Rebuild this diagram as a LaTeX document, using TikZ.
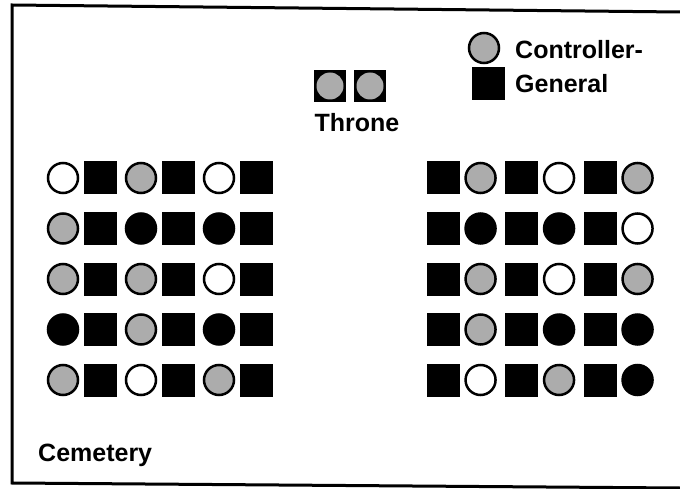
\documentclass[tikz,border=0pt]{standalone}
\usepackage{fontspec}
\setmainfont{Liberation Sans}
\usetikzlibrary{positioning}
\definecolor{dot_gray}{RGB}{172,172,172}

\begin{document}
\begin{tikzpicture}[x=1pt, y=-1pt,
    seat/.style={circle, draw=black, line width=2.5pt, minimum size=30pt, inner sep=0pt},
    gseat/.style={seat, fill=dot_gray},
    bseat/.style={seat, fill=black},
    wseat/.style={seat, fill=white},
    box/.style={rectangle, fill=black, minimum size=33pt, inner sep=0pt},
    label/.style={font=\fontsize{25}{30}\selectfont\bfseries, inner sep=0pt}]
    \useasboundingbox (0,0) rectangle (680,489);

    % Frame
    \draw[line width=3pt] (680,12) -- (12,5) -- (12,483) -- (680,488);

    % Throne
    \node[box, minimum size=32pt] (throne1) at (330,86) {};
    \node[box, minimum size=32pt] (throne2) at (370,86) {};
    \node[circle, fill=dot_gray, minimum size=27pt, inner sep=0pt] (tseat1) at (throne1) {};
    \node[circle, fill=dot_gray, minimum size=27pt, inner sep=0pt] (tseat2) at (throne2) {};
    \node[label, anchor=base] (throne) at (357,132) {Throne};

    % Key
    \node[gseat] (keyseat) at (484,48) {};
    \node[box] (keybox) at (488.5,84) {};
    \node[label, anchor=base west] (keyctl) at (515,59) {Controller-};
    \node[label, anchor=base west] (keygen) at (515,93) {General};

    % Left benches
    \foreach \kinds [count=\r] in {{wseat,gseat,wseat},{gseat,bseat,bseat},{gseat,gseat,wseat},{bseat,gseat,bseat},{gseat,wseat,gseat}} {
        \foreach \k [count=\c] in \kinds {
            \node[style=\k] (l\r c\c) at ({63+78*(\c-1)}, {178+50.5*(\r-1)}) {};
            \node[box, right=4.6pt of l\r c\c] (l\r s\c) {};
        }
    }

    % Right benches
    \foreach \kinds [count=\r] in {{gseat,wseat,gseat},{bseat,bseat,wseat},{gseat,wseat,gseat},{gseat,bseat,bseat},{wseat,gseat,bseat}} {
        \foreach \k [count=\c] in \kinds {
            \node[box] (r\r s\c) at ({443+78.5*(\c-1)}, {178+50.5*(\r-1)}) {};
            \node[style=\k, right=4.6pt of r\r s\c] (r\r c\c) {};
        }
    }

    % Cemetery
    \node[label, anchor=base west] (cemetery) at (38,461) {Cemetery};
\end{tikzpicture}
\end{document}
